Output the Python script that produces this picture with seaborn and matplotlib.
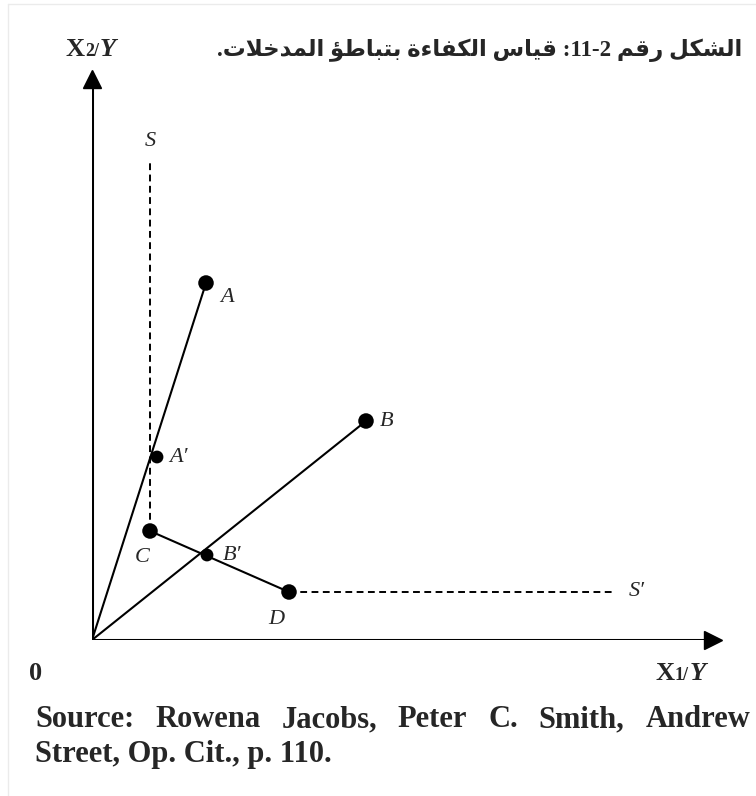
import numpy as np
import pandas as pd
import matplotlib
matplotlib.use('Agg')
import matplotlib.pyplot as plt
import seaborn as sns

# points (units: 1 = 10 px from the origin)
names = ['A', 'B', "A'", 'C', "B'", 'D']
xs = [11.4, 27.4, 6.5, 5.8, 11.5, 19.7]
ys = [35.7, 21.9, 18.3, 10.9, 8.5, 4.8]
big = [True, True, False, True, False, True]
s_top = 47.7      # top of the dashed S line
s_right = 52.0    # right end of the dashed S' line
x_max, y_max = 62.1, 56.1

title_ar = 'الشكل رقم 2-11: قياس الكفاءة بتباطؤ المدخلات.'
source_l1 = ['Source:', 'Rowena', 'Jacobs,', 'Peter', 'C.', 'Smith,', 'Andrew']
source_l2 = 'Street, Op. Cit., p. 110.'

# matplotlib has no arabic shaping -> use presentation forms, then reverse (RTL)
FORMS = {
    'ء': ('\uFE80',), 'ا': ('\uFE8D', '\uFE8E'), 'ؤ': ('\uFE85', '\uFE86'),
    'ة': ('\uFE93', '\uFE94'), 'د': ('\uFEA9', '\uFEAA'), 'ر': ('\uFEAD', '\uFEAE'),
    'ب': ('\uFE8F', '\uFE90', '\uFE91', '\uFE92'), 'ت': ('\uFE95', '\uFE96', '\uFE97', '\uFE98'),
    'خ': ('\uFEA5', '\uFEA6', '\uFEA7', '\uFEA8'), 'س': ('\uFEB1', '\uFEB2', '\uFEB3', '\uFEB4'),
    'ش': ('\uFEB5', '\uFEB6', '\uFEB7', '\uFEB8'), 'ط': ('\uFEC1', '\uFEC2', '\uFEC3', '\uFEC4'),
    'ف': ('\uFED1', '\uFED2', '\uFED3', '\uFED4'), 'ق': ('\uFED5', '\uFED6', '\uFED7', '\uFED8'),
    'ك': ('\uFED9', '\uFEDA', '\uFEDB', '\uFEDC'), 'ل': ('\uFEDD', '\uFEDE', '\uFEDF', '\uFEE0'),
    'م': ('\uFEE1', '\uFEE2', '\uFEE3', '\uFEE4'), 'ي': ('\uFEF1', '\uFEF2', '\uFEF3', '\uFEF4'),
}


def shape(text):
    out, i, n = [], 0, len(text)
    dual = lambda c: c in FORMS and len(FORMS[c]) == 4
    joins = lambda c: c in FORMS and len(FORMS[c]) >= 2
    while i < n:
        c = text[i]
        if c not in FORMS:
            out.append(c)
            i += 1
            continue
        jp = i > 0 and dual(text[i - 1]) and joins(c)
        if c == 'ل' and i + 1 < n and text[i + 1] == 'ا':
            out.append('\uFEFC' if jp else '\uFEFB')
            i += 2
            continue
        jn = dual(c) and i + 1 < n and joins(text[i + 1])
        f = FORMS[c]
        if len(f) == 1:
            out.append(f[0])
        elif jp and jn:
            out.append(f[3])
        elif jp:
            out.append(f[1])
        elif jn:
            out.append(f[2])
        else:
            out.append(f[0])
        i += 1
    return ''.join(out)[::-1]


sns.set_style('white')
plt.rcParams['font.family'] = ['Liberation Serif', 'DejaVu Sans']

df = pd.DataFrame({'name': names, 'x': xs, 'y': ys, 'big': big})

W, H = 756, 796
fig = plt.figure(figsize=(W / 100, H / 100), dpi=100)
ax = fig.add_axes([92 / W, (H - 640) / H, (713 - 92) / W, (640 - 79) / H])
ax.set_xlim(0, x_max)
ax.set_ylim(0, y_max)
ax.axis('off')

# faint page border
fig.add_artist(plt.Line2D([8 / W, 8 / W], [0, 1 - 4 / H], color='#ebebeb', lw=1))
fig.add_artist(plt.Line2D([8 / W, 1], [1 - 4 / H, 1 - 4 / H], color='#ebebeb', lw=1))

# axes with arrows
ax.plot([0, x_max], [0, 0], color='black', lw=2.2, solid_capstyle='butt')
ax.plot([0, 0], [0, y_max], color='black', lw=2.2, solid_capstyle='butt')
ax.plot(x_max, 0, marker='>', color='black', ms=13, clip_on=False)
ax.plot(0, y_max, marker='^', color='black', ms=13, clip_on=False)

p = df.set_index('name')
# rays from origin
for n in ['A', 'B']:
    sns.lineplot(x=[0, p.loc[n, 'x']], y=[0, p.loc[n, 'y']], color='black', lw=1.5, ax=ax)
# C-D segment
sns.lineplot(x=[p.loc['C', 'x'], p.loc['D', 'x']], y=[p.loc['C', 'y'], p.loc['D', 'y']],
             color='black', lw=1.5, ax=ax)
# dashed frontier parts
dash = dict(color='black', lw=1.4, ls=(0, (3.5, 2.3)))
ax.plot([p.loc['C', 'x'], p.loc['C', 'x']], [p.loc['C', 'y'], s_top], **dash)
ax.plot([p.loc['D', 'x'], s_right], [p.loc['D', 'y'], p.loc['D', 'y']], **dash)

sns.scatterplot(data=df[df.big], x='x', y='y', s=125, color='black', edgecolor='none',
                ax=ax, zorder=5)
sns.scatterplot(data=df[~df.big], x='x', y='y', s=85, color='black', edgecolor='none',
                ax=ax, zorder=5)
ax.set_xlabel('')
ax.set_ylabel('')

lab = dict(fontsize=16, style='italic', family='Liberation Serif', va='center', ha='center',
           textcoords='offset pixels')
offs = {'A': (21, -14), 'B': (21, 0), "A'": (21, -1), 'C': (-8, -26), "B'": (25, -1), 'D': (-13, -27)}
for n, (dx, dy) in offs.items():
    ax.annotate(n.replace("'", '′'), (p.loc[n, 'x'], p.loc[n, 'y']), xytext=(dx, dy), **lab)
ax.annotate('S', (p.loc['C', 'x'], s_top), xytext=(0, 21), **lab)
ax.annotate('S′', (s_right, p.loc['D', 'y']), xytext=(25, 0), **lab)

fig.canvas.draw()
r = fig.canvas.get_renderer()


def put(x, y, pieces):
    # pieces: (text, size, italic); x, y in pixels from top-left (baseline)
    for txt, size, it in pieces:
        t = fig.text(x / W, 1 - y / H, txt, fontsize=size, fontweight='bold',
                     style='italic' if it else 'normal', family='Liberation Serif',
                     va='baseline')
        x += t.get_window_extent(r).width + 1


# title (fit to the width it takes in the picture)
t = fig.text(742 / W, 1 - 56 / H, shape(title_ar), ha='right', va='baseline', fontsize=20,
             fontweight='bold', family=['Liberation Serif', 'DejaVu Sans'])
w = t.get_window_extent(r).width
t.set_fontsize(20 * 527 / w)

put(65, 56, [('X', 19, False), ('2/', 13, False), ('Y', 19, True)])
put(655, 680, [('X', 19, False), ('1/', 13, False), ('Y', 19, True)])
put(29, 680, [('0', 19, False)])

# source, first line justified
src = dict(fontsize=22, fontweight='bold', family='Liberation Serif', va='baseline')
words = [fig.text(0, 0, w, **src) for w in source_l1]
widths = [t.get_window_extent(r).width for t in words]
gap = (750 - 35 - sum(widths)) / (len(words) - 1)
x0 = 35
for t, w in zip(words, widths):
    t.set_position((x0 / W, 1 - 727 / H))
    x0 += w + gap
fig.text(35 / W, 1 - 762 / H, source_l2, **src)

fig.savefig('out.png', dpi=100)
